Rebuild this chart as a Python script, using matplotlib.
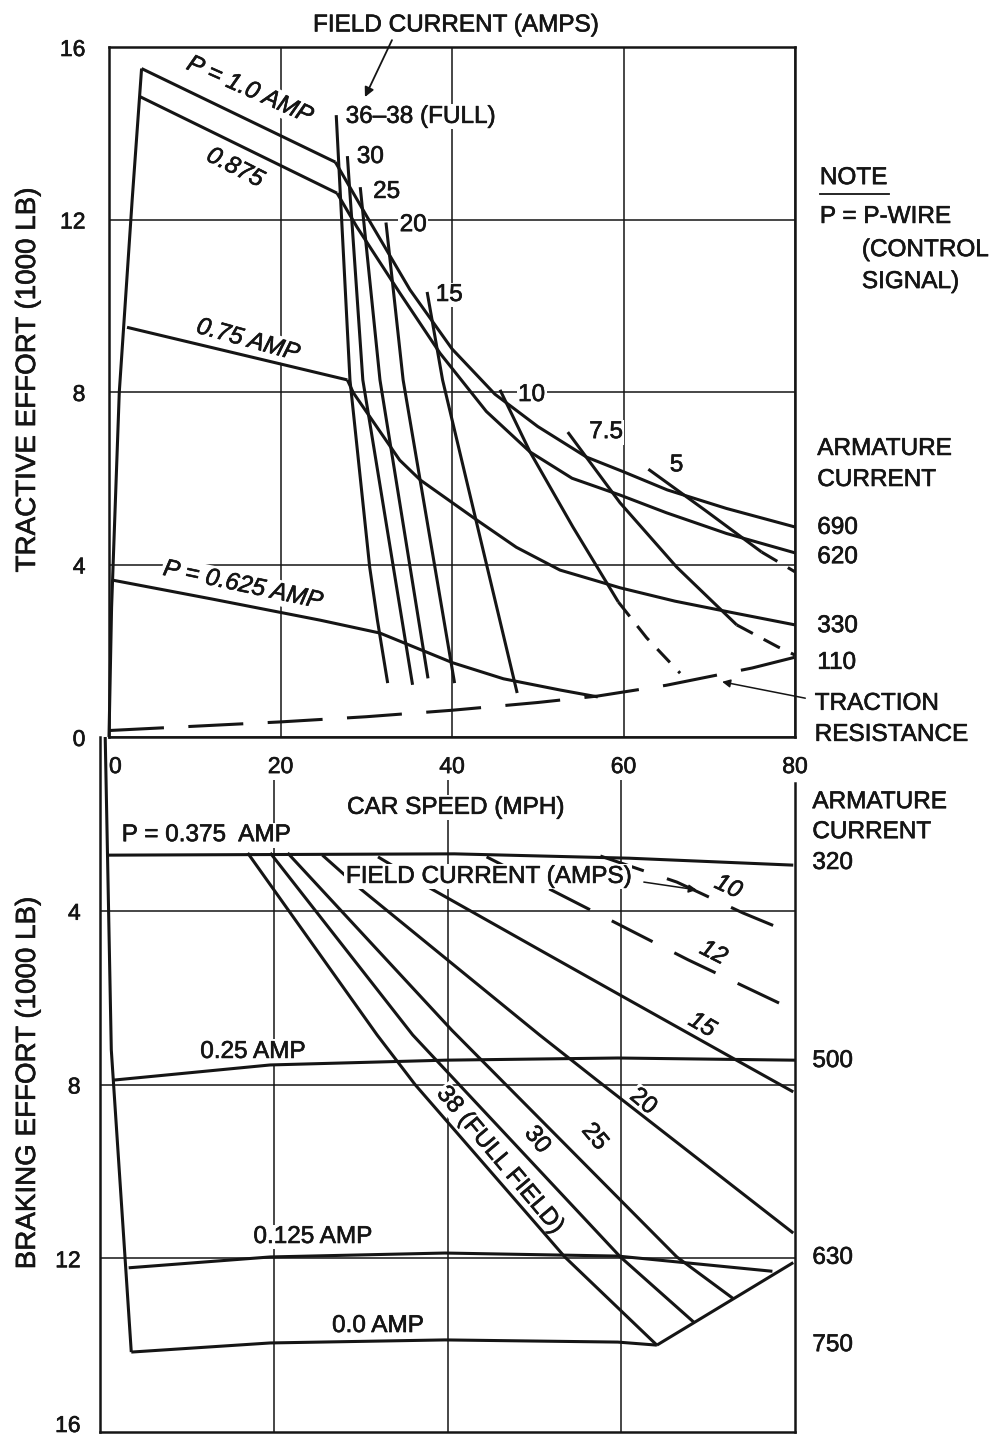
import matplotlib.pyplot as plt
from matplotlib import patheffects

# ---- tractive effort (upper panel), speed in mph, effort in 1000 lb ----
rise_x = [0.0, 0.3, 1.2, 2.7, 3.8]
rise_y = [0.0, 3.0, 8.0, 12.45, 15.5]

p100_x = [3.8, 26.4]
p100_y = [15.5, 13.33]
p0875_x = [3.6, 26.6]
p0875_y = [14.85, 12.61]
p075_x = [2.1, 27.8]
p075_y = [9.5, 8.28]
p0625_x = [0.35, 12.0, 24.6, 31.6, 40.1, 46.0, 52.6, 57.0]
p0625_y = [3.64, 3.2, 2.71, 2.41, 1.72, 1.35, 1.09, 0.93]

# armature current curves
a690_x = [26.4, 30.1, 35.1, 40.0, 45.0, 50.0, 55.7, 60.0, 65.1, 72.0, 80.0]
a690_y = [13.33, 12.06, 10.37, 9.0, 7.95, 7.2, 6.49, 6.15, 5.73, 5.3, 4.87]
a620_x = [26.6, 28.9, 33.9, 38.6, 44.0, 49.1, 54.0, 59.6, 65.0, 72.0, 80.0]
a620_y = [12.61, 11.83, 10.3, 8.9, 7.55, 6.61, 6.0, 5.61, 5.2, 4.72, 4.27]
a330_x = [27.8, 28.5, 33.9, 36.3, 42.9, 47.5, 52.6, 59.6, 66.0, 72.8, 80.0]
a330_y = [8.28, 7.98, 6.42, 5.96, 5.03, 4.4, 3.87, 3.46, 3.15, 2.88, 2.6]

# field current lines, solid part then dashed part
f38_x = [26.5, 28.1, 30.4, 31.3, 32.5]
f38_y = [14.42, 8.28, 3.94, 2.71, 1.25]
f30_x = [27.8, 29.6, 35.4]
f30_y = [13.47, 8.28, 1.21]
f25_x = [29.3, 31.6, 37.2]
f25_y = [12.75, 8.28, 1.36]
f20_x = [32.3, 34.3, 40.3]
f20_y = [11.93, 8.28, 1.25]
f15_x = [37.1, 38.9, 47.6]
f15_y = [10.32, 8.28, 1.02]
f10_x = [45.6, 49.1, 54.1, 59.4]
f10_y = [8.05, 6.61, 4.87, 3.13]
f10d_x = [59.4, 62.7, 66.6]
f10d_y = [3.13, 2.30, 1.48]
f75_x = [53.5, 59.6, 66.2, 73.2]
f75_y = [7.07, 5.43, 3.94, 2.6]
f75d_x = [73.2, 78.0, 80.0]
f75d_y = [2.6, 2.09, 1.9]
f5_x = [62.9, 69.5, 76.1]
f5_y = [6.21, 5.26, 4.29]
f5d_x = [76.1, 80.0]
f5d_y = [4.29, 3.83]

tr_x = [0, 10, 20, 30, 40, 50, 57, 65, 70, 75, 80]
tr_y = [0.15, 0.25, 0.35, 0.47, 0.62, 0.8, 0.95, 1.2, 1.4, 1.6, 1.85]

# ---- braking effort (lower panel) ----
bl_x = [0.6, 1.3, 3.6]
bl_y = [0.0, 7.2, 14.16]
b375_x = [0.9, 40.8, 60.9, 79.8]
b375_y = [2.72, 2.69, 2.79, 2.95]
b250_x = [1.5, 19.6, 39.7, 59.6, 80.0]
b250_y = [7.9, 7.55, 7.44, 7.39, 7.44]
b125_x = [3.3, 19.6, 39.7, 59.6, 77.4]
b125_y = [12.22, 11.97, 11.88, 11.95, 12.3]
b000_x = [3.6, 19.6, 39.7, 59.6, 64.1]
b000_y = [14.16, 13.95, 13.88, 13.93, 14.0]
knee_x = [64.1, 79.8]
knee_y = [14.0, 12.1]

bf38_x = [17.0, 31.9, 36.3, 53.5, 64.1]
bf38_y = [2.67, 6.86, 8.01, 11.97, 14.0]
bf30_x = [19.6, 36.0, 59.9, 68.4]
bf30_y = [2.67, 6.86, 11.97, 13.48]
bf25_x = [21.6, 40.5, 66.4, 72.9]
bf25_y = [2.67, 6.75, 11.97, 12.93]
bf20_x = [25.6, 29.7, 50.6, 57.2, 79.8]
bf20_y = [2.72, 3.45, 6.86, 7.9, 11.42]
bf15_x = [32.0, 38.0, 50.6, 59.5, 72.9, 79.8]
bf15_y = [2.76, 3.48, 4.9, 5.9, 7.4, 8.17]
bf12_x = [44.5, 53.5, 67.7, 79.8]
bf12_y = [2.76, 3.68, 5.13, 6.28]
bf10_x = [57.6, 66.4, 74.0, 79.8]
bf10_y = [2.74, 3.34, 4.05, 4.53]

speed_ticks = [0, 20, 40, 60, 80]
te_ticks = [0, 4, 8, 12, 16]
be_ticks = [4, 8, 12, 16]

INK = '#151515'
LW = 2.2
FS = 17.5
HEAVY = [patheffects.withStroke(linewidth=0.45, foreground=INK)]

plt.rcParams['font.family'] = ['Liberation Sans', 'DejaVu Sans']
plt.rcParams['text.color'] = INK

fig = plt.figure(figsize=(10.04, 14.41), dpi=100)
ax_t = fig.add_axes([109 / 1004, 1 - 737 / 1441, 686 / 1004, 690 / 1441])
ax_b = fig.add_axes([100 / 1004, 1 - 1432 / 1441, 695 / 1004, 695 / 1441])
ax_b.patch.set_visible(False)


def curve(ax, x, y, dash=None):
    ls = '-' if dash is None else (0, dash)
    ax.plot(x, y, color=INK, lw=LW, ls=ls, zorder=2,
            solid_capstyle='butt', dash_capstyle='butt', clip_on=False)


def label(ax, x, y, s, rot=0, ha='center', size=FS, z=1.5, **kw):
    ax.text(x, y, s, rotation=rot, rotation_mode='anchor', ha=ha, va='center',
            fontsize=size, zorder=z, clip_on=False, path_effects=HEAVY,
            bbox=dict(facecolor='white', edgecolor='none', pad=1.0), **kw)


def note(ax, x, y, s, ha='left'):
    ax.text(x, y, s, ha=ha, va='center', fontsize=FS, clip_on=False,
            path_effects=HEAVY)


# upper panel
ax_t.set_xlim(0, 80)
ax_t.set_ylim(0, 16)
ax_t.set_xticks(speed_ticks)
ax_t.set_yticks(te_ticks)
ax_t.tick_params(axis='x', length=0, pad=13, labelsize=16.5, labelcolor=INK)
ax_t.tick_params(axis='y', length=0, pad=17, labelsize=16.5, labelcolor=INK)
ax_t.get_xticklabels()[0].set_horizontalalignment('left')
ax_t.grid(True, color=INK, lw=1.1)
ax_t.set_axisbelow(True)
for sp in ax_t.spines.values():
    sp.set_linewidth(1.8)
    sp.set_color(INK)

for xs, ys in [(rise_x, rise_y), (p100_x, p100_y), (p0875_x, p0875_y),
               (p075_x, p075_y), (p0625_x, p0625_y), (a690_x, a690_y),
               (a620_x, a620_y), (a330_x, a330_y), (f38_x, f38_y),
               (f30_x, f30_y), (f25_x, f25_y), (f20_x, f20_y), (f15_x, f15_y),
               (f10_x, f10_y), (f75_x, f75_y), (f5_x, f5_y)]:
    curve(ax_t, xs, ys)
for xs, ys in [(f10d_x, f10d_y), (f75d_x, f75d_y), (f5d_x, f5d_y)]:
    curve(ax_t, xs, ys, dash=(6, 4))
curve(ax_t, tr_x, tr_y, dash=(18, 8))

label(ax_t, 16.4, 15.0, 'P = 1.0 AMP', rot=-24, style='italic')
label(ax_t, 14.7, 13.2, '0.875', rot=-27, style='italic')
label(ax_t, 16.2, 9.2, '0.75 AMP', rot=-15.5, style='italic')
label(ax_t, 15.6, 3.52, 'P = 0.625 AMP', rot=-12, style='italic')
label(ax_t, 27.6, 14.38, '36–38 (FULL)', ha='left')
label(ax_t, 28.9, 13.45, '30', ha='left')
label(ax_t, 30.8, 12.64, '25', ha='left')
label(ax_t, 33.9, 11.87, '20', ha='left')
label(ax_t, 38.1, 10.25, '15', ha='left')
label(ax_t, 47.7, 7.93, '10', ha='left')
label(ax_t, 56.0, 7.07, '7.5', ha='left')
label(ax_t, 65.4, 6.3, '5', ha='left')

note(ax_t, 40.4, 16.5, 'FIELD CURRENT (AMPS)', ha='center')
ax_t.annotate('', xy=(29.85, 14.84), xytext=(33.0, 16.16),
              arrowprops=dict(arrowstyle='-|>', color=INK, lw=1.3,
                              mutation_scale=14, shrinkA=0, shrinkB=0),
              annotation_clip=False)

# note and armature current column at the right
note(ax_t, 82.9, 12.96, 'NOTE')
ax_t.plot([82.9, 91.0], [12.6, 12.6], color=INK, lw=1.3, clip_on=False)
note(ax_t, 82.9, 12.06, 'P = P-WIRE')
note(ax_t, 87.8, 11.29, '(CONTROL')
note(ax_t, 87.8, 10.55, 'SIGNAL)')
note(ax_t, 82.6, 6.68, 'ARMATURE')
note(ax_t, 82.6, 5.96, 'CURRENT')
for val, yy in [('690', 4.85), ('620', 4.17), ('330', 2.57), ('110', 1.72)]:
    note(ax_t, 82.6, yy, val)
note(ax_t, 82.3, 0.77, 'TRACTION')
note(ax_t, 82.3, 0.05, 'RESISTANCE')
ax_t.annotate('', xy=(71.5, 1.28), xytext=(81.2, 0.9),
              arrowprops=dict(arrowstyle='-|>', color=INK, lw=1.1,
                              mutation_scale=12, shrinkA=0, shrinkB=0),
              annotation_clip=False)

# lower panel
ax_b.set_xlim(0, 80)
ax_b.set_ylim(16, 0)
ax_b.set_xticks([])
ax_b.set_yticks(be_ticks)
ax_b.tick_params(axis='y', length=0, pad=14, labelsize=16.5, labelcolor=INK)
ax_b.get_yticklabels()[-1].set_verticalalignment('baseline')
ax_b.spines['top'].set_visible(False)
for side in ['left', 'right', 'bottom']:
    ax_b.spines[side].set_linewidth(1.8)
    ax_b.spines[side].set_color(INK)
ax_b.spines['right'].set_bounds(1.05, 16)
ax_b.hlines([4, 8, 12], 0, 80, color=INK, lw=1.1, zorder=0.5)
ax_b.vlines([20, 40, 60], 1.0, 16, color=INK, lw=1.1, zorder=0.5)

for lab in ax_t.get_xticklabels() + ax_t.get_yticklabels() + ax_b.get_yticklabels():
    lab.set_path_effects(HEAVY)

for xs, ys in [(bl_x, bl_y), (b375_x, b375_y), (b250_x, b250_y),
               (b125_x, b125_y), (b000_x, b000_y), (knee_x, knee_y),
               (bf38_x, bf38_y), (bf30_x, bf30_y), (bf25_x, bf25_y),
               (bf20_x, bf20_y), (bf15_x, bf15_y)]:
    curve(ax_b, xs, ys)
for xs, ys in [(bf12_x, bf12_y), (bf10_x, bf10_y)]:
    curve(ax_b, xs, ys, dash=(15, 8))

label(ax_b, 40.9, 1.63, 'CAR SPEED (MPH)')
label(ax_b, 2.5, 2.26, 'P = 0.375  AMP', ha='left')
label(ax_b, 44.7, 3.22, 'FIELD CURRENT (AMPS)', z=3)
ax_b.annotate('', xy=(68.7, 3.52), xytext=(62.6, 3.34),
              arrowprops=dict(arrowstyle='-|>', color=INK, lw=1.1,
                              mutation_scale=12, shrinkA=0, shrinkB=0),
              annotation_clip=False)
label(ax_b, 72.3, 3.45, '10', rot=-25, style='italic')
label(ax_b, 70.6, 4.97, '12', rot=-27, style='italic')
label(ax_b, 69.3, 6.63, '15', rot=-30, style='italic')
label(ax_b, 62.5, 8.4, '20', rot=-40)
label(ax_b, 56.9, 9.21, '25', rot=-50)
label(ax_b, 50.3, 9.28, '30', rot=-52)
label(ax_b, 46.0, 9.74, '38 (FULL FIELD)', rot=-50)
label(ax_b, 17.6, 7.25, '0.25 AMP')
label(ax_b, 24.5, 11.51, '0.125 AMP')
label(ax_b, 32.0, 13.56, '0.0 AMP')

note(ax_b, 82.0, 1.5, 'ARMATURE')
note(ax_b, 82.0, 2.19, 'CURRENT')
for val, yy in [('320', 2.9), ('500', 7.46), ('630', 11.99), ('750', 14.0)]:
    note(ax_b, 82.0, yy, val)

# axis titles
fig.text(28 / 1004, 1 - 380 / 1441, 'TRACTIVE EFFORT (1000 LB)', rotation=90,
         ha='center', va='center', fontsize=20, path_effects=HEAVY)
fig.text(28 / 1004, 1 - 1083 / 1441, 'BRAKING EFFORT (1000 LB)', rotation=90,
         ha='center', va='center', fontsize=20, path_effects=HEAVY)

fig.savefig('out.png', dpi=100, facecolor='white')
